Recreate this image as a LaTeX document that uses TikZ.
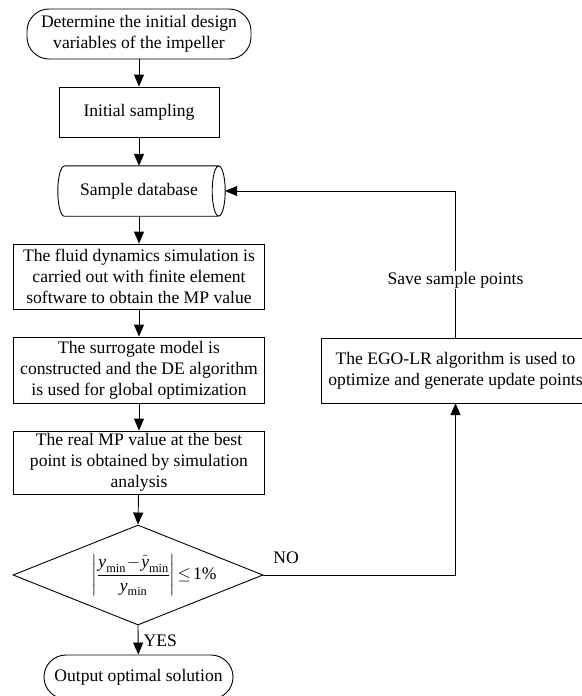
\documentclass[tikz,border=0pt]{standalone}
\usepackage{amsmath}
\usepackage{fontspec}
\setmainfont{Liberation Serif}
\usetikzlibrary{arrows.meta,shapes.geometric,shapes.misc}
\begin{document}
\begin{tikzpicture}[x=1pt,y=1pt,
  every node/.style={font=\fontsize{17.6}{21}\selectfont},
  box/.style={draw,line width=0.9pt,align=center,inner sep=0pt},
  term/.style={box,rounded corners=22pt},
  arr/.style={line width=0.9pt,-{Triangle[length=12pt,width=10pt]}},
  ln/.style={line width=0.9pt}]
\useasboundingbox (0,0) rectangle (581,-696);
\node[term,minimum width=224,minimum height=50] (start) at (139,-34) {Determine the initial design\\variables of the impeller};
\node[box,minimum width=160,minimum height=50] (init) at (139,-112) {Initial sampling};
\node[inner sep=0pt,minimum width=167,minimum height=50] (db) at (141.5,-191) {\hspace*{-5pt}Sample database};
\draw[ln] ([xshift=6.5pt]db.north west) -- ([xshift=-6.5pt]db.north east)
  ([xshift=-6.5pt]db.east) ellipse [x radius=6.5pt,y radius=25pt]
  ([xshift=-6.5pt]db.south east) -- ([xshift=6.5pt]db.south west)
  arc[start angle=270,end angle=90,x radius=6.5pt,y radius=25pt];
\node[box,minimum width=251,minimum height=65] (fluid) at (139,-276.5) {The fluid dynamics simulation is\\carried out with finite element\\software to obtain the MP value};
\node[box,minimum width=251,minimum height=66] (surr) at (139,-370) {The surrogate model is\\constructed and the DE algorithm\\is used for global optimization};
\node[box,minimum width=251,minimum height=63] (real) at (139,-462.5) {The real MP value at the best\\point is obtained by simulation\\analysis};
\node[diamond,draw,line width=0.9pt,minimum width=250,minimum height=100,inner sep=0pt] (dia) at (138,-575) {};
\node[inner sep=0pt] (formula) at ([xshift=16pt]dia.center) {$\displaystyle\left|\frac{\textit{y}_{\textrm{min}}\!-\!\tilde{\textit{y}}_{\textrm{min}}}{\textit{y}_{\textrm{min}}}\right|\!\leq\! \text{1\%}$};
\node[term,minimum width=189,minimum height=44] (out) at (138.5,-677) {Output optimal solution};
\draw[ln] (321,-338) rectangle (600,-403);
\node[align=center,minimum height=65,inner sep=0pt] (ego) at (455.5,-370.5) {The EGO-LR algorithm is used to\\optimize and generate update points};
\coordinate (c1) at (455.5,-575);
\coordinate (c2) at (455.5,-191);
\draw[arr] (start) -- (init);
\draw[arr] (init) -- (init |- db.north);
\draw[arr] (init |- db.south) -- (fluid);
\draw[arr] (fluid) -- (surr);
\draw[arr] (surr) -- (real);
\draw[arr] (real) -- (dia.north);
\draw[arr] (dia.south) -- node[right,inner sep=5pt,yshift=-1pt] (yes) {YES} (out);
\draw[ln] (dia.east) -- (c1);
\draw[arr] (c1) -- (ego.south);
\node (no) at (286,-558) {NO};
\draw[ln] (ego.north) -- (c2);
\draw[arr] (c2) -- (db.east);
\node[fill=white,inner sep=1pt] (save) at (455.5,-280) {Save sample points};
\end{tikzpicture}
\end{document}
